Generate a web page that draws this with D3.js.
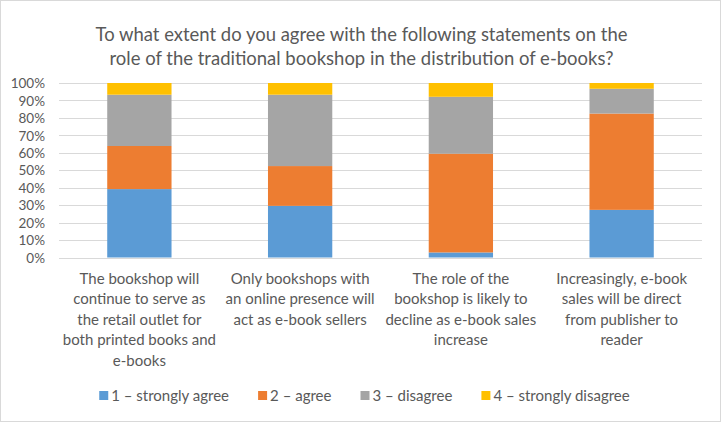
<!DOCTYPE html>
<html>
<head>
<meta charset="utf-8">
<script src="https://cdn.jsdelivr.net/npm/d3@7"></script>
<style>
  body { margin: 0; background: #fff; }
  text { font-family: Lato, "Open Sans", sans-serif; fill: #595959; }
</style>
</head>
<body>
<div id="chart"></div>
<script>
(function () {

  // chart data
  const titleLines = [
    'To what extent do you agree with the following statements on the',
    'role of the traditional bookshop in the distribution of e-books?'
  ];
  const categories = [
    'The bookshop will\ncontinue to serve as\nthe retail outlet for\nboth printed books and\ne-books',
    'Only bookshops with\nan online presence will\nact as e-book sellers',
    'The role of the\nbookshop is likely to\ndecline as e-book sales\nincrease',
    'Increasingly, e-book\nsales will be direct\nfrom publisher to\nreader'
  ];
  const seriesNames = ['1 – strongly agree', '2 – agree', '3 – disagree', '4 – strongly disagree'];
  const stronglyAgree = [39.2, 29.6, 2.9, 27.3];
  const agree = [24.7, 22.8, 56.6, 55.2];
  const disagree = [29.4, 40.9, 32.6, 14.2];
  const stronglyDisagree = [6.7, 6.7, 7.9, 3.3];
  const yTicks = [0, 10, 20, 30, 40, 50, 60, 70, 80, 90, 100];
  const colors = ['#5B9BD5', '#ED7D31', '#A5A5A5', '#FFC000'];

  const width = 723;
  const height = 423;
  const margin = { top: 83, right: 21, bottom: 165.5, left: 59 };

  const svg = d3.select('#chart')
    .append('svg')
    .attr('width', width)
    .attr('height', height);

  // outer border
  svg.append('rect')
    .attr('x', 0.5).attr('y', 0.5)
    .attr('width', width - 3).attr('height', height - 2)
    .attr('fill', '#fff')
    .attr('stroke', '#d9d9d9');

  // title
  svg.append('g')
    .selectAll('text')
    .data(titleLines)
    .join('text')
    .attr('x', width / 2)
    .attr('y', (d, i) => 41 + i * 24)
    .attr('text-anchor', 'middle')
    .style('font-size', '19px')
    .attr('textLength', (d, i) => i === 0 ? 532 : 504)
    .attr('lengthAdjust', 'spacingAndGlyphs')
    .text(d => d);

  // build rows for stacking
  const rows = categories.map((c, i) => ({
    cat: c,
    s0: stronglyAgree[i],
    s1: agree[i],
    s2: disagree[i],
    s3: stronglyDisagree[i]
  }));
  const stacked = d3.stack().keys(['s0', 's1', 's2', 's3'])(rows);

  const x = d3.scaleBand()
    .domain(categories)
    .range([margin.left, width - margin.right])
    .paddingInner(0.6)
    .paddingOuter(0.3);

  const y = d3.scaleLinear()
    .domain([0, 100])
    .range([height - margin.bottom, margin.top]);

  // gridlines
  svg.append('g')
    .selectAll('line')
    .data(yTicks)
    .join('line')
    .attr('x1', margin.left)
    .attr('x2', width - margin.right)
    .attr('y1', d => Math.round(y(d)) + 0.5)
    .attr('y2', d => Math.round(y(d)) + 0.5)
    .attr('stroke', '#d9d9d9')
    .attr('stroke-width', 1);

  // y axis labels
  const yAxis = svg.append('g')
    .attr('transform', `translate(${margin.left - 14},0)`)
    .call(d3.axisLeft(y).tickValues(yTicks).tickFormat(d => d + '%').tickSize(0));
  yAxis.select('.domain').remove();
  yAxis.selectAll('text')
    .attr('x', 0)
    .attr('dy', '0.35em')
    .style('font-size', '13.5px')
    .style('fill', '#595959');

  // bars
  svg.append('g')
    .selectAll('g')
    .data(stacked)
    .join('g')
    .attr('fill', (d, i) => colors[i])
    .selectAll('rect')
    .data(d => d)
    .join('rect')
    .attr('x', d => x(d.data.cat))
    .attr('y', d => y(d[1]))
    .attr('width', x.bandwidth())
    .attr('height', d => y(d[0]) - y(d[1]));

  // category labels
  const catLabels = svg.append('g')
    .selectAll('text')
    .data(categories)
    .join('text')
    .attr('text-anchor', 'middle')
    .attr('x', d => x(d) + x.bandwidth() / 2)
    .attr('y', 284)
    .style('font-size', '15px');
  catLabels.selectAll('tspan')
    .data(d => d.split('\n').map(t => ({ t: t, x: x(d) + x.bandwidth() / 2 })))
    .join('tspan')
    .attr('x', d => d.x)
    .attr('dy', (d, i) => i === 0 ? 0 : 20.4)
    .text(d => d.t);

  // legend
  const legend = svg.append('g');
  const items = legend.selectAll('g')
    .data(seriesNames)
    .join('g');
  items.append('rect')
    .attr('width', 9).attr('height', 9)
    .attr('y', 391)
    .attr('fill', (d, i) => colors[i]);
  items.append('text')
    .attr('x', 12)
    .attr('y', 401)
    .style('font-size', '15px')
    .text(d => d);

  // lay out legend items side by side, centered
  const gap = 29;
  let offsets = [];
  let cursor = 0;
  items.each(function () {
    offsets.push(cursor);
    cursor += this.getBBox().width + gap;
  });
  const total = cursor - gap;
  const start = width / 2 - total / 2 + 3;
  items.attr('transform', (d, i) => `translate(${start + offsets[i]},0)`);

})();
</script>
</body>
</html>
